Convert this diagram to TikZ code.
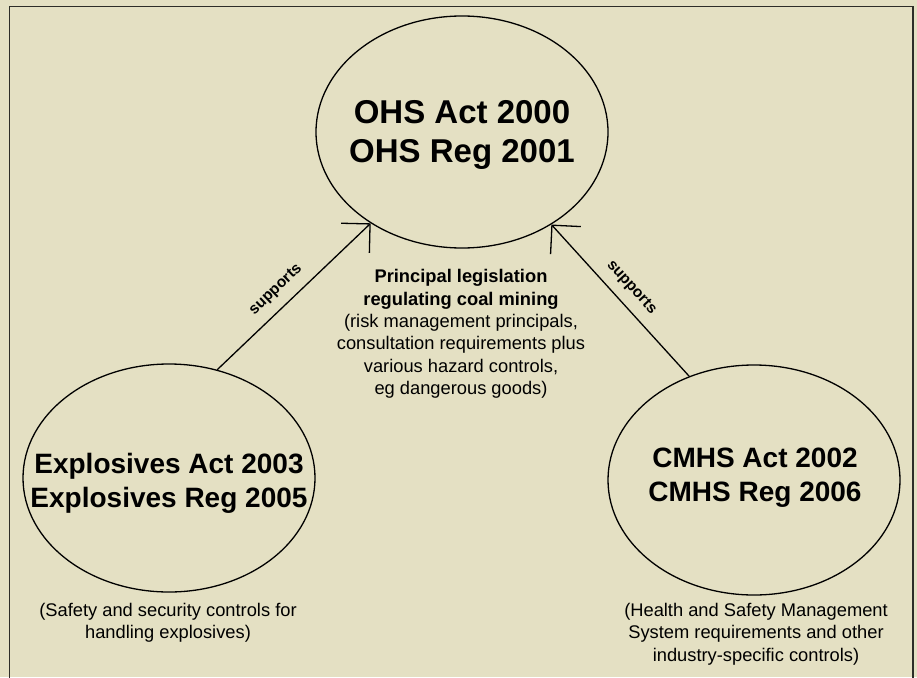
\documentclass[tikz,border=0pt]{standalone}
\usepackage{fontspec}
\setmainfont{Liberation Sans}
\usetikzlibrary{arrows.meta,shapes.geometric}
\definecolor{bg}{RGB}{228,224,195}
\definecolor{framec}{RGB}{45,45,40}
\begin{document}
\begin{tikzpicture}[x=1pt,y=-1pt,
  oval/.style={ellipse, draw, line width=1.3pt, minimum width=292pt, minimum height=232pt, inner sep=0pt},
  bigtext/.style={font=\bfseries\fontsize{33}{39}\selectfont, align=center, inner sep=0pt},
  midtext/.style={font=\bfseries\fontsize{28}{34}\selectfont, align=center, inner sep=0pt},
  notetext/.style={font=\fontsize{18.3}{22.4}\selectfont, align=center, inner sep=0pt},
  lbl/.style={font=\bfseries\fontsize{15.5}{18}\selectfont, sloped, above=8pt, inner sep=2pt},
  arr/.style={draw, line width=1.3pt, -{Straight Barb[angle=90:29pt]}}]
\fill[bg] (0,0) rectangle (917,677);
\useasboundingbox (0,0) rectangle (917,677);
\draw[line width=1.5pt, framec] (9.5,6.5) rectangle (913,700);

\node[oval] (ohs) at (462,132) {};
\node[oval, minimum height=228pt] (expl) at (169,478) {};
\node[oval, minimum height=230pt] (cmhs) at (754,480) {};

\node[bigtext] (ohst) at (462,135) {OHS Act 2000\\OHS Reg 2001};
\node[midtext] (explt) at (169,483) {Explosives Act 2003\\Explosives Reg 2005};
\node[midtext] (cmhst) at (755,478) {CMHS Act 2002\\CMHS Reg 2006};

\node[notetext] (princ) at (461,334) {\textbf{Principal legislation}\\\textbf{regulating coal mining}\\(risk management principals,\\consultation requirements plus\\various hazard controls,\\eg dangerous goods)};
\node[notetext] (explnote) at (168,623) {(Safety and security controls for\\handling explosives)};
\node[notetext] (cmhsnote) at (756,634) {(Health and Safety Management\\System requirements and other\\industry-specific controls)};

\draw[arr] (expl.66) -- node[lbl, pos=0.46] (s1) {supports} (ohs.225.9);
\draw[arr] (cmhs.122.5) -- (ohs.314.4);
\path (ohs.314.4) -- node[lbl, pos=0.49] (s2) {supports} (cmhs.122.5);
\end{tikzpicture}
\end{document}
